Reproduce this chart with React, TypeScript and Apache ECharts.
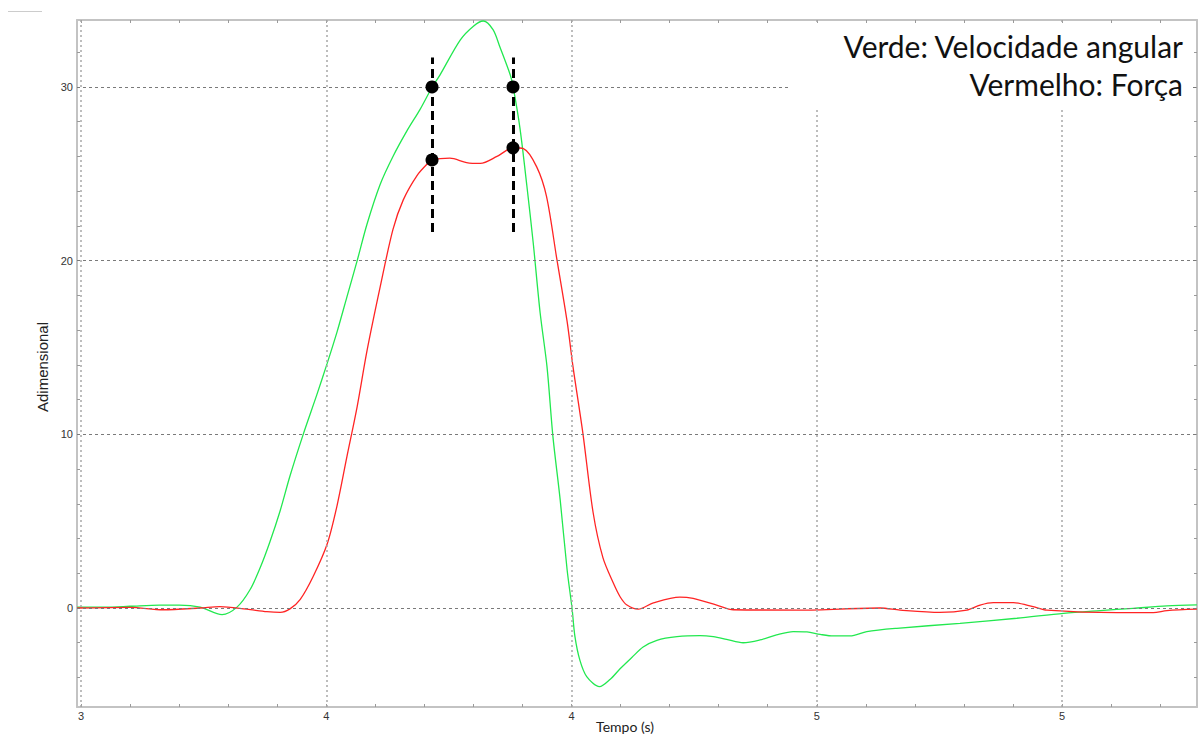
import React, { useEffect, useRef } from 'react';
import * as echarts from 'echarts';

// ---- axis ranges ----
const X_MIN = 2.9918;
const X_MAX = 5.2752;
const Y_MIN = -5.7;
const Y_MAX = 33.857;

// ---- ticks / labels ----
const X_MAJOR = [3, 3.5, 4, 4.5, 5];
const X_MAJOR_LABELS = ['3', '4', '4', '5', '5'];
const X_MINOR = [3.0, 3.1, 3.2, 3.3, 3.4, 3.5, 3.6, 3.7, 3.8, 3.9, 4.0, 4.1, 4.2, 4.3, 4.4, 4.5, 4.6, 4.7, 4.8, 4.9, 5.0, 5.1, 5.2];
const Y_MAJOR = [0, 10, 20, 30];
const Y_MINOR = [-4, -2, 0, 2, 4, 6, 8, 10, 12, 14, 16, 18, 20, 22, 24, 26, 28, 30, 32];

// ---- green: velocidade angular ----
const GREEN_T = [2.992, 3.05, 3.10, 3.16, 3.20, 3.243, 3.2875, 3.318, 3.3445, 3.365, 3.385, 3.406, 3.426, 3.453, 3.481, 3.502, 3.522, 3.542, 3.563, 3.583, 3.610, 3.636, 3.665, 3.691, 3.716, 3.732, 3.773, 3.80, 3.820, 3.84, 3.854, 3.875, 3.881, 3.895, 3.909, 3.922, 3.936, 3.950, 3.962, 3.977, 3.991, 4.001, 4.007, 4.017, 4.031, 4.057, 4.079, 4.099, 4.123, 4.146, 4.174, 4.215, 4.262, 4.289, 4.316, 4.350, 4.384, 4.418, 4.452, 4.480, 4.507, 4.534, 4.568, 4.602, 4.663, 4.792, 4.908, 5.003, 5.078, 5.145, 5.214, 5.275];
const GREEN_V = [0.05, 0.05, 0.1, 0.17, 0.17, 0.05, -0.38, 0.05, 1.05, 2.3, 3.8, 5.6, 7.6, 10.0, 12.3, 14.1, 15.9, 17.9, 20.0, 22.1, 24.4, 26.0, 27.5, 28.7, 30.0, 30.7, 32.7, 33.5, 33.8, 33.3, 32.3, 30.7, 30.0, 27.6, 24.3, 21.0, 17.0, 13.9, 9.9, 6.2, 2.2, 0.0, -1.65, -3.0, -3.95, -4.53, -4.1, -3.5, -2.85, -2.25, -1.86, -1.65, -1.59, -1.65, -1.8, -2.0, -1.84, -1.55, -1.36, -1.38, -1.52, -1.61, -1.61, -1.36, -1.17, -0.88, -0.59, -0.31, -0.15, -0.02, 0.12, 0.18];

// ---- red: força ----
const RED_T = [2.992, 3.10, 3.167, 3.243, 3.283, 3.338, 3.379, 3.406, 3.426, 3.447, 3.473, 3.502, 3.522, 3.542, 3.563, 3.583, 3.610, 3.636, 3.657, 3.685, 3.707, 3.716, 3.752, 3.786, 3.814, 3.848, 3.881, 3.902, 3.929, 3.949, 3.970, 3.991, 4.003, 4.023, 4.044, 4.064, 4.085, 4.099, 4.113, 4.136, 4.167, 4.221, 4.248, 4.296, 4.330, 4.466, 4.629, 4.670, 4.751, 4.806, 4.833, 4.860, 4.901, 4.941, 4.969, 5.112, 5.186, 5.214, 5.275];
const RED_V = [0.0, 0.04, -0.1, 0.0, 0.08, -0.07, -0.21, -0.25, -0.05, 0.5, 1.8, 3.7, 5.9, 8.7, 11.6, 14.8, 18.5, 21.8, 23.5, 24.9, 25.6, 25.8, 25.9, 25.65, 25.6, 26.0, 26.5, 26.45, 25.4, 23.7, 20.1, 16.5, 13.9, 10.1, 5.5, 2.9, 1.45, 0.65, 0.17, -0.07, 0.3, 0.63, 0.55, 0.17, -0.1, -0.12, 0.0, -0.12, -0.25, -0.12, 0.17, 0.31, 0.31, 0.08, -0.12, -0.27, -0.27, -0.15, -0.07];

// ---- black markers ----
const MARK_T = [3.7156, 3.8807];
const MARK_GREEN = [30, 30];
const MARK_RED = [25.8, 26.5];
const MARK_RANGE = [21.65, 31.7];

const LEGEND_LINES = ['Verde: Velocidade angular', 'Vermelho: Força'];
const X_NAME = 'Tempo (s)';
const Y_NAME = 'Adimensional';

const AXIS_COLOR = '#c3c3c3';
const TICK_COLOR = '#9a9a9a';
const LABEL_FONT = { fontSize: 11, color: '#333', fontFamily: 'Liberation Sans, Arial, sans-serif' };

function xLabel(v: number) {
  const i = X_MAJOR.findIndex((m) => Math.abs(m - v) < 1e-6);
  return i >= 0 ? X_MAJOR_LABELS[i] : '';
}

export default function App() {
  const ref = useRef<HTMLDivElement>(null);
  useEffect(() => {
    if (!ref.current) return;
    const chart = echarts.init(ref.current, undefined, { renderer: 'svg' });
    const axisLine = { show: true, onZero: false, lineStyle: { color: AXIS_COLOR, width: 2 } };
    const tick = (vals: number[]) => ({ show: true, inside: true, length: 3, customValues: vals, lineStyle: { color: TICK_COLOR, width: 1 } });
    const vGrid = { color: '#a8a8a8', width: 1.5, type: [2, 3] };
    const hGrid = { color: '#7a7a7a', width: 1, type: [3, 3] };
    const option: any = {
      animation: false,
      backgroundColor: '#fff',
      grid: { left: 77, right: 5, top: 20, bottom: 28, containLabel: false },
      xAxis: [
        {
          type: 'value', position: 'bottom', min: X_MIN, max: X_MAX,
          axisLine, axisTick: tick(X_MINOR),
          axisLabel: { customValues: X_MAJOR, formatter: xLabel, margin: 3, ...LABEL_FONT },
          splitLine: { show: false },
        },
        {
          type: 'value', position: 'top', min: X_MIN, max: X_MAX,
          axisLine, axisTick: tick(X_MINOR), axisLabel: { show: false }, splitLine: { show: false },
        },
      ],
      yAxis: [
        {
          type: 'value', position: 'left', min: Y_MIN, max: Y_MAX,
          axisLine, axisTick: tick(Y_MINOR),
          axisLabel: { customValues: Y_MAJOR, margin: 4, ...LABEL_FONT },
          splitLine: { show: false },
        },
        {
          type: 'value', position: 'right', min: Y_MIN, max: Y_MAX,
          axisLine, axisTick: tick(Y_MINOR), axisLabel: { show: false }, splitLine: { show: false },
        },
      ],
      series: [
        {
          type: 'line', name: 'grid', data: [], silent: true, z: 1,
          markLine: {
            silent: true, symbol: ['none', 'none'], label: { show: false }, animation: false,
            emphasis: { disabled: true },
            data: [
              ...X_MAJOR.map((v) => ({ xAxis: v, lineStyle: vGrid })),
              ...Y_MAJOR.map((v) => ({ yAxis: v, lineStyle: hGrid })),
            ],
          },
        },
        {
          type: 'line', name: 'Velocidade angular', z: 3,
          data: GREEN_T.map((t, i) => [t, GREEN_V[i]]),
          showSymbol: false, smooth: 0.3,
          lineStyle: { color: '#22e84f', width: 1.3 },
        },
        {
          type: 'line', name: 'Força', z: 3,
          data: RED_T.map((t, i) => [t, RED_V[i]]),
          showSymbol: false, smooth: 0.3,
          lineStyle: { color: '#ff2424', width: 1.3 },
        },
        {
          type: 'scatter', name: 'marcadores', z: 5,
          data: [
            ...MARK_T.map((t, i) => [t, MARK_GREEN[i]]),
            ...MARK_T.map((t, i) => [t, MARK_RED[i]]),
          ],
          symbolSize: 13,
          itemStyle: { color: '#000', opacity: 1 },
          markLine: {
            silent: true, symbol: ['none', 'none'], label: { show: false },
            lineStyle: { color: '#000', width: 3, type: [9, 5] },
            data: MARK_T.map((t) => [{ coord: [t, MARK_RANGE[0]] }, { coord: [t, MARK_RANGE[1]] }]),
          },
        },
      ],
      graphic: [
        { type: 'line', shape: { x1: 8, y1: 11.5, x2: 42, y2: 11.5 }, style: { stroke: '#cccccc', lineWidth: 1 }, z: 60 },
        { type: 'rect', shape: { x: 790, y: 24, width: 402, height: 84 }, style: { fill: '#ffffff' }, z: 50 },
        {
          type: 'text', x: 1183, y: 46, z: 51,
          style: { text: LEGEND_LINES[0], align: 'right', verticalAlign: 'middle', fontSize: 30, fontFamily: 'Lato, sans-serif', fill: '#111' },
        },
        {
          type: 'text', x: 1183, y: 84, z: 51,
          style: { text: LEGEND_LINES[1], align: 'right', verticalAlign: 'middle', fontSize: 30, fontFamily: 'Lato, sans-serif', fill: '#111' },
        },
        {
          type: 'text', x: 625, y: 726, z: 51,
          style: { text: X_NAME, align: 'center', verticalAlign: 'middle', fontSize: 14, fontFamily: 'Lato, sans-serif', fill: '#222' },
        },
        {
          type: 'text', x: 42, y: 367, rotation: Math.PI / 2, z: 51,
          style: { text: Y_NAME, align: 'center', verticalAlign: 'middle', fontSize: 15, fontFamily: 'Liberation Sans, Arial, sans-serif', fill: '#222' },
        },
      ],
    };
    chart.setOption(option);
    return () => chart.dispose();
  }, []);
  return (
    <div
      ref={ref}
      style={{ position: 'fixed', left: 0, top: 0, width: 1202, height: 735, background: '#fff' }}
    />
  );
}
